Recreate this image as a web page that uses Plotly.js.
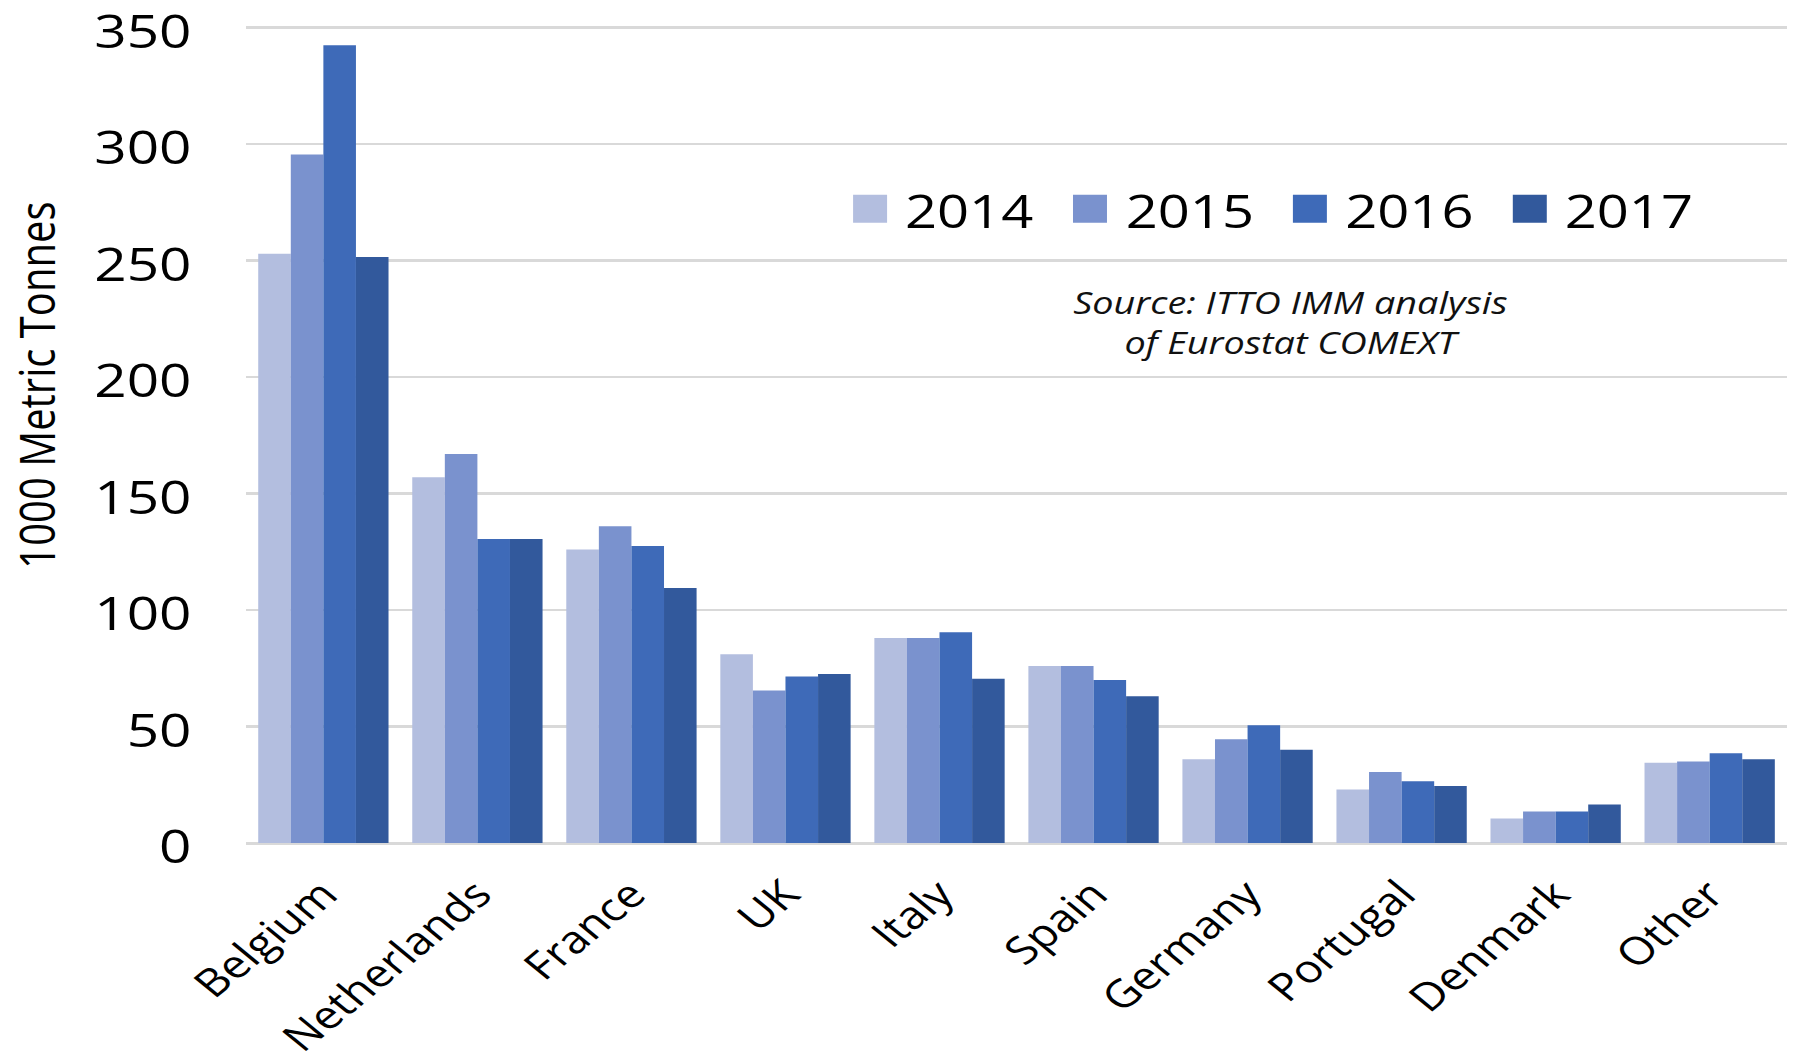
<!DOCTYPE html>
<html>
<head>
<meta charset="utf-8">
<script src="https://cdn.plot.ly/plotly-3.0.1.min.js"></script>
<style>
html,body{margin:0;padding:0;background:#fff;overflow:hidden;}
#chart{width:1471px;height:1061px;transform:scaleX(1.21958);transform-origin:0 0;}
</style>
</head>
<body>
<div id="chart"></div>
<script>
var countries = ["Belgium","Netherlands","France","UK","Italy","Spain","Germany","Portugal","Denmark","Other"];
var years = ["2014","2015","2016","2017"];
var v2014 = [253, 157, 126, 81, 88, 76, 36, 23, 10.5, 34.5];
var v2015 = [295.5, 167, 136, 65.5, 88, 76, 44.5, 30.5, 13.5, 35];
var v2016 = [342.5, 130.5, 127.5, 71.5, 90.5, 70, 50.5, 26.5, 13.5, 38.5];
var v2017 = [251.5, 130.5, 109.5, 72.5, 70.5, 63, 40, 24.5, 16.5, 36];
var colors = ["#B3BEDF", "#7A92CE", "#3E6AB8", "#32599C"];
var yTicks = [0, 50, 100, 150, 200, 250, 300, 350];
var series = [v2014, v2015, v2016, v2017];

// the page is stretched horizontally by S to match the reference's wide glyphs
var S = 1794 / 1471;
var W = 1471, H = 1061, ML = 246 / S, MR = 7 / S, MT = 23.3, MB = 218;
var PW = W - ML - MR, PH = H - MT - MB;
function px(x){ return (x / S - ML) / PW; }   // x given in final screen pixels
function py(y){ return (H - MB - y) / PH; }

var FONT = "Open Sans, DejaVu Sans, sans-serif";

var traces = series.map(function(vals, i){
  return {type: "bar", x: countries, y: vals, name: years[i],
    marker: {color: colors[i], line: {width: 0}}, showlegend: false};
});

var shapes = [], annotations = [];
var legX = [870, 1090, 1310, 1530], legY = 209, halfX = 17, halfY = 14;
years.forEach(function(yr, i){
  shapes.push({type: "rect", xref: "paper", yref: "paper",
    x0: px(legX[i] - halfX), x1: px(legX[i] + halfX), y0: py(legY + halfY), y1: py(legY - halfY),
    fillcolor: colors[i], line: {width: 0}});
  annotations.push({xref: "paper", yref: "paper", x: px(legX[i] + 33), y: py(legY + 1),
    xanchor: "left", yanchor: "middle", showarrow: false, text: yr,
    font: {family: FONT, size: 46, color: "#000"}});
});
annotations.push({xref: "paper", yref: "paper", x: px(1290), y: py(322),
  xanchor: "center", yanchor: "middle", showarrow: false, align: "center",
  text: "<i>Source: ITTO IMM analysis<br>of Eurostat COMEXT</i>",
  font: {family: FONT, size: 31, color: "#111"}});
annotations.push({xref: "paper", yref: "paper", x: px(36), y: py(385),
  xanchor: "center", yanchor: "middle", showarrow: false, textangle: -90,
  text: "1000 Metric Tonnes",
  font: {family: FONT, size: 40, color: "#000"}});

var layout = {
  width: W, height: H,
  margin: {l: ML, r: MR, t: MT, b: MB, pad: 0},
  paper_bgcolor: "#fff", plot_bgcolor: "#fff",
  barmode: "group", bargap: 0.154, bargroupgap: 0,
  showlegend: false,
  xaxis: {type: "category", tickangle: -45, tickfont: {family: FONT, size: 38.5, color: "#000"},
    showgrid: false, showline: false, ticks: "", zeroline: false, ticklabelstandoff: 20,
    ticklabeloverflow: "allow"},
  yaxis: {range: [0, 352], tickvals: yTicks, ticktext: yTicks.map(String),
    tickfont: {family: FONT, size: 46.5, color: "#000"},
    showgrid: true, gridcolor: "#D9D9D9", gridwidth: 2.5,
    zeroline: true, zerolinecolor: "#D9D9D9", zerolinewidth: 3,
    showline: false, ticks: "", ticklabelstandoff: 44, ticklabelshift: 4,
    ticklabeloverflow: "allow"},
  shapes: shapes,
  annotations: annotations
};

Plotly.newPlot("chart", traces, layout, {staticPlot: true, displayModeBar: false});
</script>
</body>
</html>
